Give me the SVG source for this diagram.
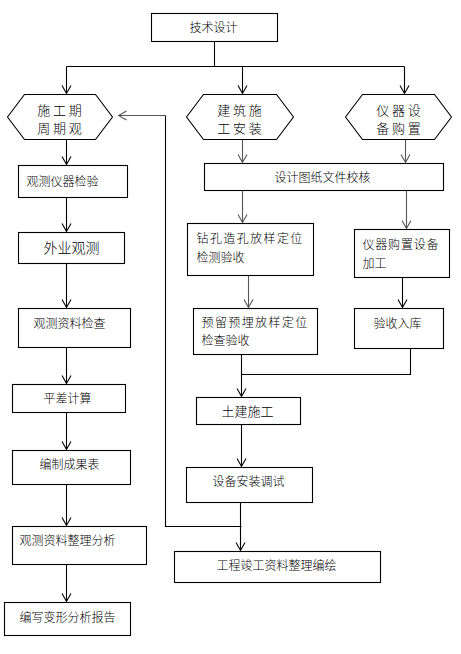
<svg xmlns="http://www.w3.org/2000/svg" width="461" height="654" viewBox="0 0 461 654">
<style>
.box{fill:#fff;stroke:#000;stroke-width:1.1}
.t{font-family:"Noto Sans CJK SC","Liberation Sans",sans-serif;font-size:12px;font-weight:300;fill:#000}
.c{text-anchor:middle}
.ln{fill:none;stroke:#000;stroke-width:1.1}
.g{stroke:#555}
</style>
<defs>
<marker id="ar" viewBox="-10 -6 11 12" markerWidth="11" markerHeight="12" refX="0" refY="0" orient="auto" markerUnits="userSpaceOnUse">
<path d="M-8,-4.5 L0,0 L-8,4.5" fill="none" stroke="#000" stroke-width="1.1"/>
</marker>
<marker id="arg" viewBox="-10 -6 11 12" markerWidth="11" markerHeight="12" refX="0" refY="0" orient="auto" markerUnits="userSpaceOnUse">
<path d="M-8,-4.5 L0,0 L-8,4.5" fill="none" stroke="#555" stroke-width="1.1"/>
</marker>
</defs>
<rect width="461" height="654" fill="#fff"/>
<g transform="translate(0.5,0.5)">
<g id="connectors">
<path class="ln" d="M214,41 V66 M66,66 H404"/>
<path class="ln" d="M66,66 V93" marker-end="url(#ar)"/>
<path class="ln" d="M242,66 V93" marker-end="url(#ar)"/>
<path class="ln" d="M404,66 V93" marker-end="url(#ar)"/>
<path class="ln" d="M66,139 V164" marker-end="url(#ar)"/>
<path class="ln" d="M66,197 V231" marker-end="url(#ar)"/>
<path class="ln" d="M66,263 V307" marker-end="url(#ar)"/>
<path class="ln" d="M66,347 V383" marker-end="url(#ar)"/>
<path class="ln" d="M66,412 V449" marker-end="url(#ar)"/>
<path class="ln" d="M66,484 V525" marker-end="url(#ar)"/>
<path class="ln" d="M66,564 V601" marker-end="url(#ar)"/>
<path class="ln g" d="M242,139 V162" marker-end="url(#arg)"/>
<path class="ln g" d="M405,139 V162" marker-end="url(#arg)"/>
<path class="ln g" d="M242,190 V222" marker-end="url(#arg)"/>
<path class="ln g" d="M406,190 V228" marker-end="url(#arg)"/>
<path class="ln g" d="M248,275 V307" marker-end="url(#arg)"/>
<path class="ln" d="M402,277 V307" marker-end="url(#ar)"/>
<path class="ln" d="M241,354 V396" marker-end="url(#ar)"/>
<path class="ln" d="M410,348 V374 H241"/>
<path class="ln" d="M241,424 V466" marker-end="url(#ar)"/>
<path class="ln" d="M240,502 V550" marker-end="url(#ar)"/>
<path class="ln" d="M241,526 H165 V115"/>
<path class="ln g" d="M165,115 H118" marker-end="url(#arg)"/>
</g>
<g id="n-jishusheji">
<rect class="box" x="151" y="13" width="126" height="28"/>
<text class="t c" x="213" y="31.5">技术设计</text>
</g>
<g id="n-shigongqi">
<polygon class="box" points="7,116.5 24,94 95,94 112,116.5 95,139 24,139"/>
<text class="t c" x="59" y="114.5" style="font-size:13px" xml:space="preserve">施 工 期</text>
<text class="t c" x="59" y="132.5" style="font-size:13px" xml:space="preserve">周 期 观</text>
</g>
<g id="n-jianzhu">
<polygon class="box" points="186,116.5 203,94 276,94 293,116.5 276,139 203,139"/>
<text class="t c" x="239" y="114.5" style="font-size:13px" xml:space="preserve">建 筑 施</text>
<text class="t c" x="239" y="132.5" style="font-size:13px" xml:space="preserve">工 安 装</text>
</g>
<g id="n-yiqi">
<polygon class="box" points="345,116.5 362,94 434,94 451,116.5 434,139 362,139"/>
<text class="t c" x="398" y="114.5" style="font-size:13px" xml:space="preserve">仪 器 设</text>
<text class="t c" x="398" y="132.5" style="font-size:13px" xml:space="preserve">备 购 置</text>
</g>
<g id="n-jianyan">
<rect class="box" x="18" y="165" width="109" height="32"/>
<text class="t" x="26" y="185.5">观测仪器检验</text>
</g>
<g id="n-waiye">
<rect class="box" x="18" y="232" width="106" height="31"/>
<text class="t c" x="71" y="252" style="font-size:14px">外业观测</text>
</g>
<g id="n-ziliaojiancha">
<rect class="box" x="18" y="308" width="112" height="39"/>
<text class="t" x="33" y="327.5">观测资料检查</text>
</g>
<g id="n-pingcha">
<rect class="box" x="12" y="384" width="113" height="28"/>
<text class="t c" x="67" y="402.5">平差计算</text>
</g>
<g id="n-bianzhi">
<rect class="box" x="12" y="450" width="118" height="34"/>
<text class="t" x="39" y="468.5">编制成果表</text>
</g>
<g id="n-zhengli">
<rect class="box" x="12" y="526" width="134" height="38"/>
<text class="t" x="19" y="544.5">观测资料整理分析</text>
</g>
<g id="n-baogao">
<rect class="box" x="4" y="602" width="126" height="33"/>
<text class="t" x="19" y="621.5">编写变形分析报告</text>
</g>
<g id="n-sheji">
<rect class="box" x="204" y="163" width="239" height="27"/>
<text class="t c" x="322" y="181.5">设计图纸文件校核</text>
</g>
<g id="n-zuankong">
<rect class="box" x="187" y="223" width="126" height="52"/>
<text class="t" x="196" y="242.5" style="letter-spacing:1.4px">钻孔造孔放样定位</text>
<text class="t" x="196" y="261.5">检测验收</text>
</g>
<g id="n-yiqigouzhi">
<rect class="box" x="354" y="229" width="95" height="48"/>
<text class="t" x="362" y="248.5" style="letter-spacing:0.8px">仪器购置设备</text>
<text class="t" x="362" y="267.5">加工</text>
</g>
<g id="n-yuliu">
<rect class="box" x="193" y="308" width="124" height="46"/>
<text class="t" x="201" y="326.5" style="letter-spacing:1.4px">预留预埋放样定位</text>
<text class="t" x="201" y="344.5">检查验收</text>
</g>
<g id="n-ruku">
<rect class="box" x="354" y="308" width="89" height="40"/>
<text class="t c" x="397" y="327.5">验收入库</text>
</g>
<g id="n-tujian">
<rect class="box" x="196" y="397" width="104" height="27"/>
<text class="t c" x="247" y="415.5" style="font-size:13px">土建施工</text>
</g>
<g id="n-shebei">
<rect class="box" x="186" y="467" width="126" height="35"/>
<text class="t" x="212" y="485.5">设备安装调试</text>
</g>
<g id="n-jungong">
<rect class="box" x="174" y="551" width="206" height="31"/>
<text class="t" x="216" y="569.5">工程竣工资料整理编绘</text>
</g>
</g>
</svg>
